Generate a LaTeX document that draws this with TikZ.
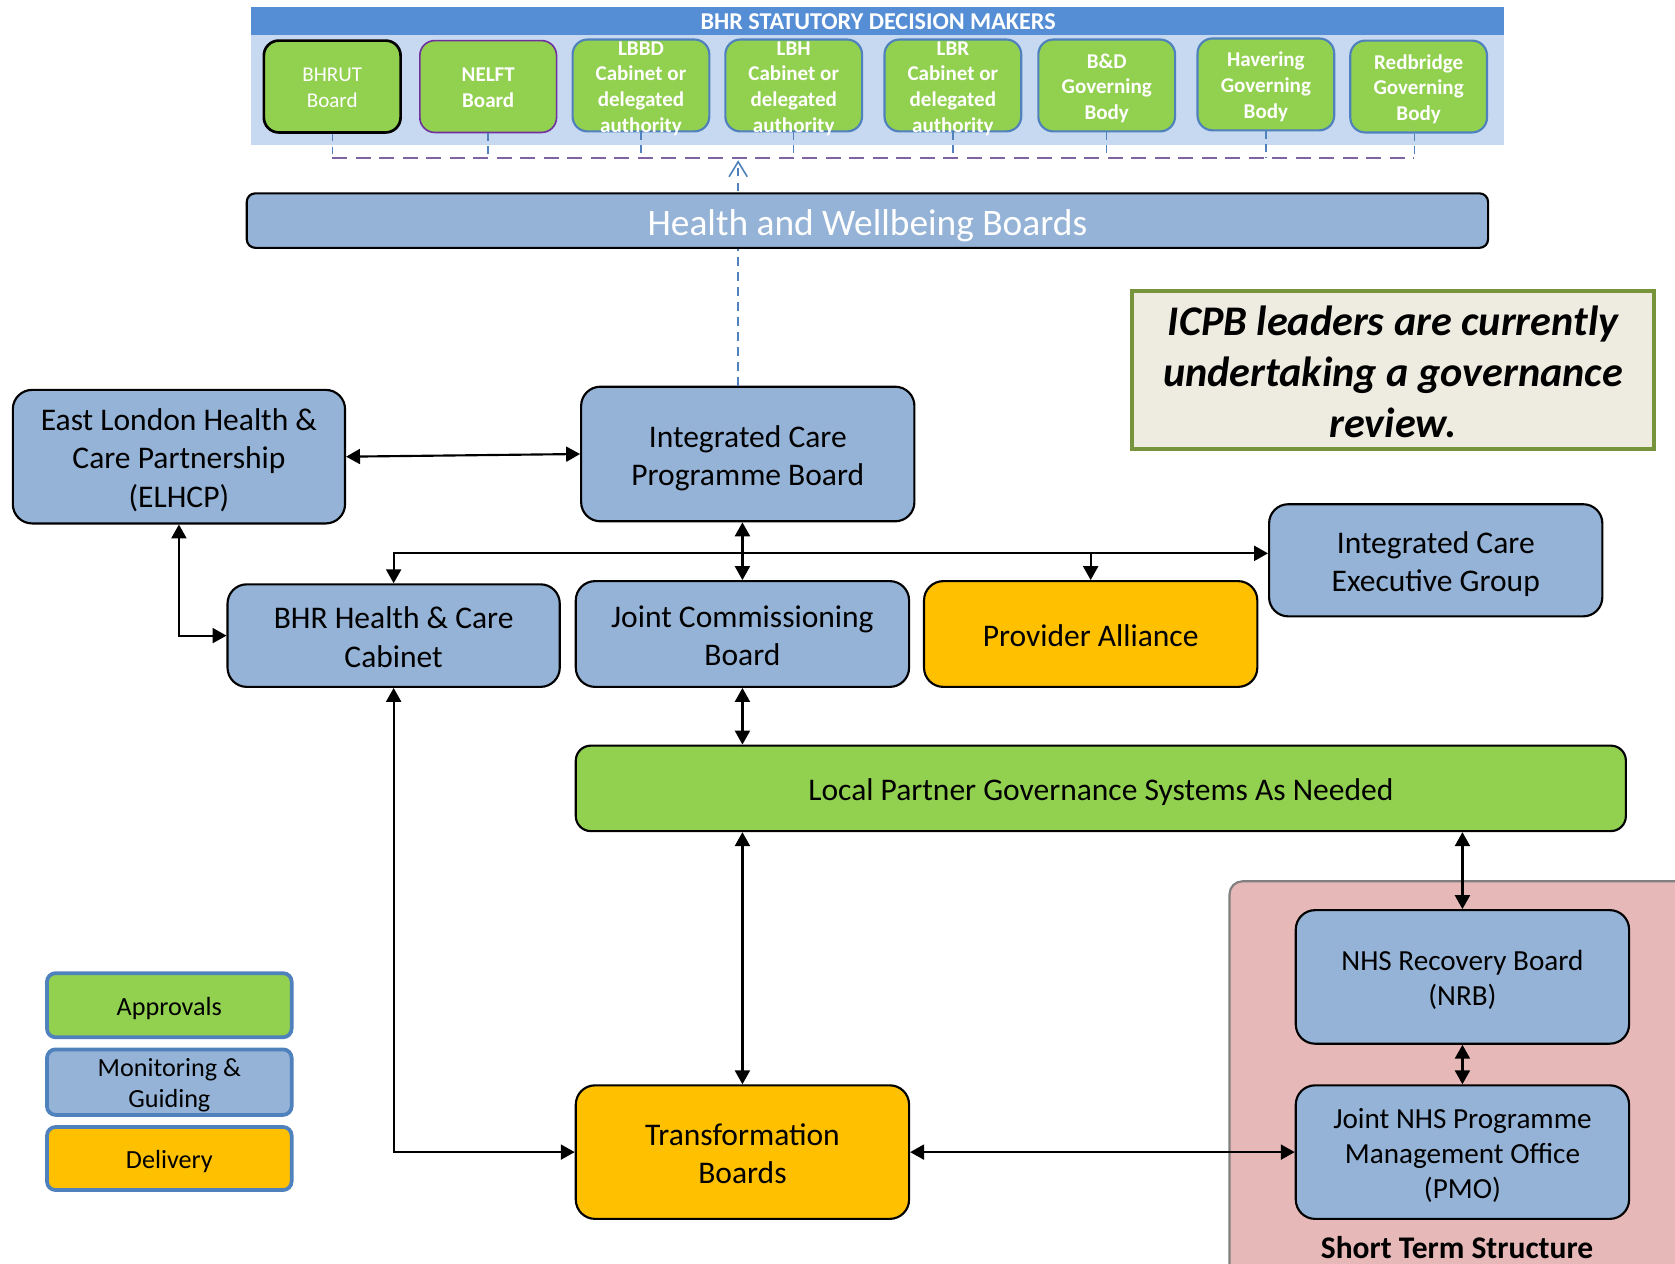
\documentclass[tikz,border=0pt]{standalone}
\usepackage{fontspec}
\setmainfont{Carlito}
\usetikzlibrary{arrows.meta}

\definecolor{mblue}{HTML}{95B3D7}
\definecolor{mgreen}{HTML}{92D050}
\definecolor{morange}{HTML}{FFC000}
\definecolor{hdrdark}{HTML}{558ED5}
\definecolor{hdrlight}{HTML}{C6D9F1}
\definecolor{edgeblue}{HTML}{4F81BD}
\definecolor{edgepurple}{HTML}{7030A0}
\definecolor{buspurple}{HTML}{8064A2}
\definecolor{pinkzone}{HTML}{E6B9B8}
\definecolor{notefill}{HTML}{EEECE1}
\definecolor{noteedge}{HTML}{77933C}

\newcommand\fsBig{\fontsize{29.5}{36}\selectfont}
\newcommand\fsMid{\fontsize{27.3}{33}\selectfont}
\newcommand\fsSmall{\fontsize{19.7}{24}\selectfont}
\newcommand\fsLeg{\fontsize{24.5}{29}\selectfont}
\newcommand\fsHead{\fontsize{22.6}{26}\selectfont}
\newcommand\fsHwb{\fontsize{35}{40}\selectfont}
\newcommand\fsNote{\fontsize{39.5}{48}\selectfont}
% invisible rules giving the first line the ascent and the last line the descent of the font
\newcommand\upbox{\rule{0pt}{1.05em}}
\newcommand\dnbox{\rule[-0.269em]{0pt}{0pt}}
% text set between the two
\newcommand\lines[1]{\upbox#1\dnbox}

\tikzset{
  box/.style={draw=black, line width=2pt, rounded corners=18pt, inner sep=0pt,
    align=center, font=\fsBig, text=black},
  bluebox/.style={box, fill=mblue},
  greenbox/.style={box, fill=mgreen},
  orangebox/.style={box, fill=morange},
  stbox/.style={box, font=\fsMid, fill=mblue},
  sbox/.style={draw=edgeblue, line width=2pt, fill=mgreen, rounded corners=14pt,
    minimum width=128pt, minimum height=86pt, inner sep=0pt},
  stxt/.style={align=center, font=\fsSmall\bfseries, text=white, inner sep=0pt},
  legbox/.style={draw=edgeblue, line width=3.5pt, rounded corners=8pt,
    minimum width=229pt, inner sep=0pt, align=center, font=\fsLeg},
  tip/.tip={Triangle[length=13pt,width=14pt]},
  arr/.style={line width=2pt, -tip},
  darr/.style={line width=2pt, tip-tip},
  dropline/.style={draw=edgeblue, line width=1.3pt, dash pattern=on 7pt off 5pt},
  busline/.style={draw=buspurple, line width=2pt, dash pattern=on 14pt off 8pt},
  upline/.style={draw=edgeblue, line width=1.8pt, dash pattern=on 8pt off 6pt,
    -{Straight Barb[length=14pt,width=17pt,line width=1.5pt]}},
}

\begin{document}
\begin{tikzpicture}[x=1pt,y=-1pt]
\useasboundingbox (0,0) rectangle (1568,1183);
\clip (0,0) rectangle (1568,1183);
\fill[white] (0,0) rectangle (1568,1183);

% short term structure zone
\draw[fill=pinkzone, draw=gray, line width=2pt, rounded corners=12pt]
  (1151,825) rectangle (1620,1230);
\node[font=\fsBig\bfseries, inner sep=0pt] (stlabel) at (1364,1168) {Short Term Structure};

% statutory decision makers band
\fill[hdrlight] (235,7) rectangle (1408,136);
\fill[hdrdark] (235,7) rectangle (1408,33);
\node[font=\fsHead\bfseries, text=white, inner sep=0pt] (hdr) at (822,20.5)
  {BHR STATUTORY DECISION MAKERS};

\node[sbox, draw=black, line width=2.5pt] (bhrut) at (311,81) {};
\node[stxt, font=\fsSmall] at (bhrut.center) {\lines{BHRUT\\Board}};
\node[sbox, draw=edgepurple, line width=1.5pt] (nelft) at (457,81) {};
\node[stxt] at (nelft.center) {\lines{NELFT\\Board}};
\node[sbox] (lbbd) at (600,80) {};
\node[stxt] at (lbbd.center) {\lines{LBBD\\Cabinet or\\delegated\\authority}};
\node[sbox] (lbh) at (743,80) {};
\node[stxt] at (lbh.center) {\lines{LBH\\Cabinet or\\delegated\\authority}};
\node[sbox] (lbr) at (892,80) {};
\node[stxt] at (lbr.center) {\lines{LBR\\Cabinet or\\delegated\\authority}};
\node[sbox] (bd) at (1036,80) {};
\node[stxt] at (bd.center) {\lines{B\&D\\Governing\\Body}};
\node[sbox] (hav) at (1185,79) {};
\node[stxt] at (hav.center) {\lines{Havering\\Governing\\Body}};
\node[sbox] (red) at (1328,81) {};
\node[stxt] at (red.center) {\lines{Redbridge\\Governing\\Body}};

% dashed links from the decision makers
\coordinate (busL) at (311,148);
\foreach \n in {bhrut,nelft,lbbd,lbh,lbr,bd,hav}
  \draw[dropline] (\n.south) -- (\n.south |- busL);
\coordinate (busR) at (1324,148);
\draw[dropline] (red.south -| busR) -- (busR);
\draw[busline] (bhrut.south |- busL) -- (busR);

% programme board and the dashed report line upwards
\node[bluebox, minimum width=312pt, minimum height=126pt] (icpb) at (700,425)
  {\lines{Integrated Care\\Programme Board}};
\coordinate (uptop) at (691,150);
\draw[upline] (icpb.north -| uptop) -- (uptop);

\node[draw=black, line width=2pt, fill=mblue, rounded corners=8pt, inner sep=0pt,
  minimum width=1162pt, minimum height=51pt, font=\fsHwb, text=white]
  (hwb) at (812,206.5) {\lines{Health and Wellbeing Boards}};

% note
\node[draw=noteedge, line width=4pt, fill=notefill, inner sep=0pt,
  minimum width=488pt, minimum height=147pt, align=center,
  font=\fsNote\bfseries\itshape] (note) at (1304,346.5)
  {\lines{ICPB leaders are currently\\undertaking a governance\\review.}};

% main structure
\node[bluebox, minimum width=311pt, minimum height=125pt] (elhcp) at (167.5,427.5)
  {\lines{East London Health \&\\Care Partnership\\(ELHCP)}};
\node[bluebox, minimum width=311pt, minimum height=96pt] (cab) at (368.5,595)
  {\lines{BHR Health \& Care\\Cabinet}};
\node[bluebox, minimum width=312pt, minimum height=99pt] (jcb) at (695,593.5)
  {\lines{Joint Commissioning\\Board}};
\node[orangebox, minimum width=312pt, minimum height=99pt] (pa) at (1021,593.5)
  {\lines{Provider Alliance}};
\node[bluebox, minimum width=312pt, minimum height=105pt] (iceg) at (1344,524.5)
  {\lines{Integrated Care\\Executive Group}};
\node[greenbox, minimum width=983pt, minimum height=80pt, rounded corners=14pt]
  (lpgs) at (1030.5,738) {\lines{Local Partner Governance Systems As Needed}};
\node[orangebox, minimum width=312pt, minimum height=125pt] (tb) at (695,1078.5)
  {\lines{Transformation\\Boards}};
\node[stbox, minimum width=312pt, minimum height=125pt] (nrb) at (1369,914.5)
  {\lines{NHS Recovery Board\\(NRB)}};
\node[stbox, minimum width=312pt, minimum height=125pt] (pmo) at (1369,1078.5)
  {\lines{Joint NHS Programme\\Management Office\\(PMO)}};

% legend
\node[legbox, fill=mgreen, minimum height=60pt] (legA) at (158.5,941) {\lines{Approvals}};
\node[legbox, fill=mblue, minimum height=60pt] (legM) at (158.5,1013)
  {\lines{Monitoring \&\\Guiding}};
\node[legbox, fill=morange, minimum height=59pt] (legD) at (158.5,1084.5) {\lines{Delivery}};

% connectors
\draw[darr] (elhcp.east) -- (icpb.west);
\draw[darr] (elhcp.south) |- (cab.west);
\draw[darr] (jcb.north |- icpb.south) -- (jcb.north);
\coordinate (bus) at (695,518);
\draw[arr] (bus) -| (cab.north);
\draw[arr] (bus) -- (bus -| iceg.west);
\draw[arr] (bus -| pa.north) -- (pa.north);
\draw[darr] (jcb.south) -- (jcb.south |- lpgs.north);
\draw[darr] (tb.north |- lpgs.south) -- (tb.north);
\draw[darr] (cab.south) |- (tb.west);
\draw[darr] (tb.east) -- (pmo.west);
\draw[darr] (nrb.north |- lpgs.south) -- (nrb.north);
\draw[darr] (nrb.south) -- (pmo.north);
\end{tikzpicture}
\end{document}
